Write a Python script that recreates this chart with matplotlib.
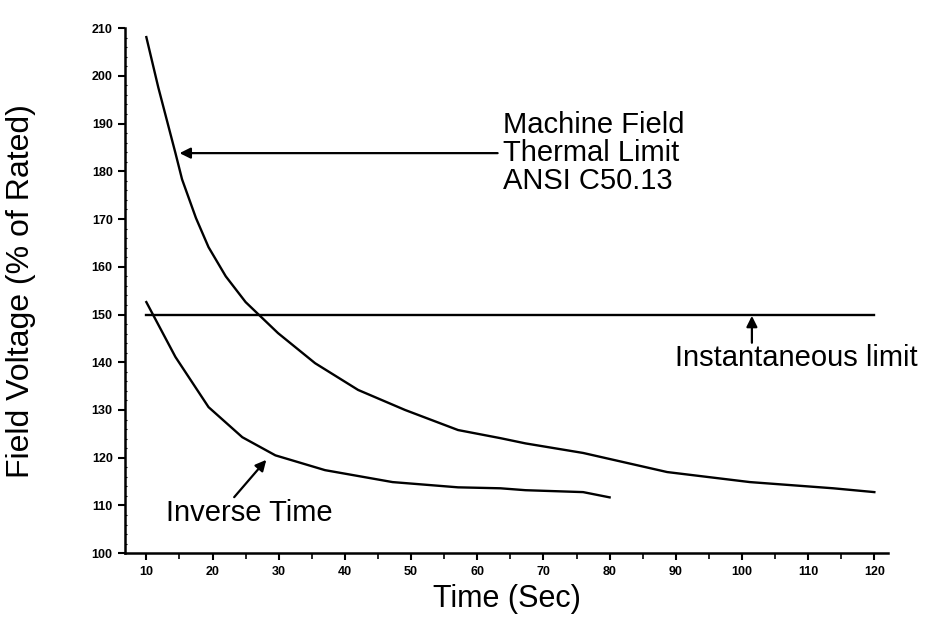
import matplotlib
matplotlib.use('Agg')
import matplotlib.pyplot as plt
from matplotlib.ticker import MultipleLocator

# Machine field thermal limit (ANSI C50.13)
thermal_t = [10, 11.8, 14.4, 15.4, 17.5, 19.4, 22.0, 25.0, 29.9, 35.5, 42.0, 49.1, 57.1, 63.5, 67.3, 76.0, 88.7, 101.2, 113.8, 120]
thermal_v = [208.1, 197.6, 183.8, 178.3, 170.2, 164.1, 158.0, 152.6, 146.1, 139.8, 134.2, 130.0, 125.8, 124.1, 123.0, 121.0, 117.0, 114.9, 113.6, 112.8]

# Inverse time characteristic
inverse_t = [10, 14.4, 19.4, 24.5, 29.5, 37.0, 47.2, 57.1, 63.5, 67.3, 76.0, 80]
inverse_v = [152.6, 141.1, 130.6, 124.3, 120.5, 117.4, 114.9, 113.8, 113.6, 113.2, 112.8, 111.7]

# Instantaneous limit
inst_t = [10, 120]
inst_v = [150, 150]

x_ticks = [10, 20, 30, 40, 50, 60, 70, 80, 90, 100, 110, 120]
y_ticks = [100, 110, 120, 130, 140, 150, 160, 170, 180, 190, 200, 210]

plt.rcParams['font.family'] = ['Liberation Sans', 'DejaVu Sans']

fig = plt.figure(figsize=(9.34, 6.23), dpi=100)
ax = fig.add_axes([0.134, 0.112, 0.817, 0.843])

ax.plot(thermal_t, thermal_v, color='black', linewidth=1.7)
ax.plot(inverse_t, inverse_v, color='black', linewidth=1.7)
ax.plot(inst_t, inst_v, color='black', linewidth=1.7)

ax.set_xlim(6.8, 122.1)
ax.set_ylim(100, 210)
ax.set_xticks(x_ticks)
ax.set_yticks(y_ticks)
ax.xaxis.set_minor_locator(MultipleLocator(5))
ax.yaxis.set_minor_locator(MultipleLocator(2))
ax.tick_params(axis='both', which='major', direction='out', length=5, width=1.5,
               labelsize=9, pad=4)
ax.tick_params(axis='x', which='minor', direction='out', length=4, width=1.2)
ax.tick_params(axis='y', which='minor', direction='in', length=1.5, width=0.8)
for lab in ax.get_xticklabels() + ax.get_yticklabels():
    lab.set_fontweight('bold')

ax.spines['top'].set_visible(False)
ax.spines['right'].set_visible(False)
ax.spines['left'].set_linewidth(1.8)
ax.spines['bottom'].set_linewidth(1.8)

ax.set_xlabel('Time (Sec)', fontsize=22)
ax.xaxis.set_label_coords(0.5, -0.087)
ax.xaxis.label.set_va('center')
ax.set_ylabel('Field Voltage (% of Rated)', fontsize=23)
ax.yaxis.set_label_coords(-0.137, 0.5)
ax.yaxis.label.set_va('center')

# Annotations
arrow = dict(arrowstyle='-|>', color='black', lw=1.6, mutation_scale=16)
ax.annotate('', xy=(14.6, 183.8), xytext=(63.5, 183.8), arrowprops=arrow)
ax.text(63.9, 183.8, 'Machine Field\nThermal Limit\nANSI C50.13', fontsize=21,
        ha='left', va='center', linespacing=1.0)

ax.annotate('', xy=(101.5, 150.3), xytext=(101.5, 143.5), arrowprops=arrow)
ax.text(89.9, 140.9, 'Instantaneous limit', fontsize=21, ha='left', va='center')

ax.annotate('', xy=(28.4, 120.0), xytext=(23.0, 111.3), arrowprops=arrow)
ax.text(12.9, 108.4, 'Inverse Time', fontsize=21, ha='left', va='center')

fig.savefig('out.png', dpi=100)
